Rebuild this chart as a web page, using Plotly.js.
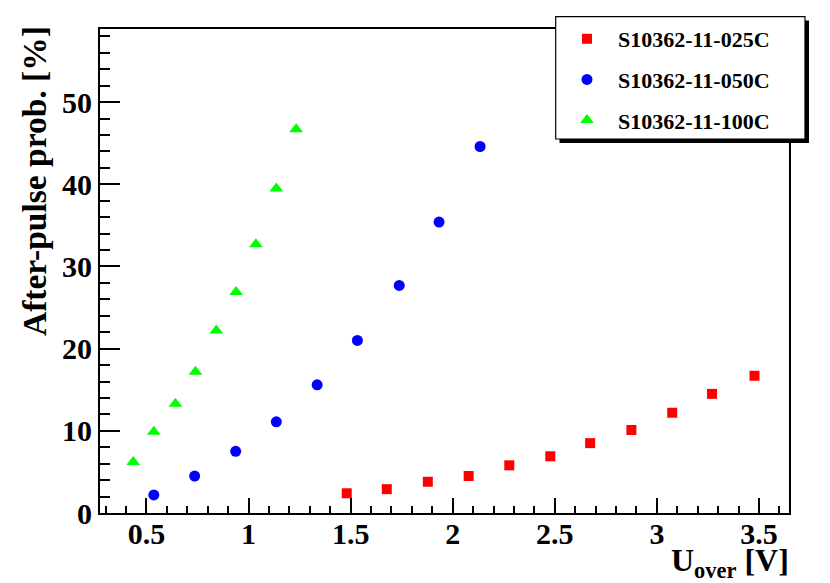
<!DOCTYPE html>
<html>
<head>
<meta charset="utf-8">
<script src="https://cdn.plot.ly/plotly-3.0.1.min.js"></script>
<style>html,body{margin:0;padding:0;background:#fff;}#chart{width:830px;height:583px;}</style>
</head>
<body>
<div id="chart"></div>
<script>
// ---- data ----
const names = ["S10362-11-025C", "S10362-11-050C", "S10362-11-100C"];
const x025 = [1.481, 1.677, 1.878, 2.078, 2.277, 2.478, 2.673, 2.875, 3.075, 3.270, 3.478];
const y025 = [2.4, 2.9, 3.8, 4.5, 5.8, 6.9, 8.5, 10.1, 12.2, 14.5, 16.7];
const x050 = [0.536, 0.736, 0.937, 1.136, 1.336, 1.533, 1.738, 1.933, 2.134];
const y050 = [2.2, 4.5, 7.5, 11.1, 15.6, 21.0, 27.7, 35.4, 44.6];
const x100 = [0.435, 0.536, 0.642, 0.740, 0.842, 0.939, 1.036, 1.136, 1.233];
const y100 = [6.2, 9.9, 13.3, 17.2, 22.2, 26.9, 32.7, 39.5, 46.7];
const xTitle = "U<sub>over</sub> [V]";
const yTitle = "After-pulse prob. [%]";

// ---- layout helpers (pixel -> paper) ----
const W = 830, H = 583;
const L = 100, R = 789, T = 29, B = 513;
const px = v => (v - L) / (R - L);
const py = v => (B - v) / (B - T);

const FONT = "Liberation Serif, Times New Roman, serif";

const traces = [
  {x: x025, y: y025, name: names[0], legendgroup: "a", mode: "markers", type: "scatter",
   marker: {symbol: "square", size: 10, color: "#ff0000"}},
  {x: x050, y: y050, name: names[1], legendgroup: "b", mode: "markers", type: "scatter",
   marker: {symbol: "circle", size: 11, color: "#0000ff"}},
  {x: x100, y: y100, name: names[2], legendgroup: "c", mode: "markers", type: "scatter",
   marker: {symbol: "triangle-up", size: 12, color: "#00ff00"}}
];

const axisCommon = {
  showgrid: false, zeroline: false,
  showline: true, linecolor: "#000", linewidth: 2, mirror: true,
  ticks: "inside", tickcolor: "#000", tickwidth: 2,
  tickfont: {family: FONT, size: 30, color: "#000", weight: "bold"}
};

const layout = {
  width: W, height: H,
  margin: {l: L, r: W - R, t: T, b: H - B, pad: 0},
  paper_bgcolor: "#fff", plot_bgcolor: "#fff",
  showlegend: true,
  xaxis: Object.assign({}, axisCommon, {
    range: [0.2724, 3.647], tickmode: "linear", tick0: 0.5, dtick: 0.5, ticklen: 15,
    ticklabelstandoff: -7,
    minor: {dtick: 0.1, tick0: 0, ticks: "inside", ticklen: 7, tickcolor: "#000", tickwidth: 2}
  }),
  yaxis: Object.assign({}, axisCommon, {
    range: [0, 58.9], tickmode: "linear", tick0: 0, dtick: 10, ticklen: 20,
    minor: {dtick: 2, tick0: 0, ticks: "inside", ticklen: 10, tickcolor: "#000", tickwidth: 2}
  }),
  legend: {
    x: px(556), y: py(18), xanchor: "left", yanchor: "top",
    bgcolor: "rgba(0,0,0,0)", borderwidth: 0, itemwidth: 52,
    tracegroupgap: 9,
    font: {family: FONT, size: 22, color: "#000", weight: "bold"}
  },
  shapes: [
    {type: "rect", xref: "paper", yref: "paper", layer: "above",
     x0: px(559.5), x1: px(809), y0: py(20.5), y1: py(143),
     fillcolor: "#000", line: {width: 0}},
    {type: "rect", xref: "paper", yref: "paper", layer: "above",
     x0: px(555.7), x1: px(805), y0: py(16.7), y1: py(139),
     fillcolor: "#fff", line: {color: "#000", width: 1.2}}
  ],
  annotations: [
    {text: yTitle, xref: "paper", yref: "paper", x: px(34), y: py(24),
     xanchor: "center", yanchor: "top", textangle: -90, showarrow: false,
     font: {family: FONT, size: 33.5, color: "#000", weight: "bold"}},
    {text: xTitle, xref: "paper", yref: "paper", x: px(791), y: py(562),
     xanchor: "right", yanchor: "middle", showarrow: false,
     font: {family: FONT, size: 32, color: "#000", weight: "bold"}}
  ]
};

Plotly.newPlot("chart", traces, layout, {staticPlot: true, displayModeBar: false});
</script>
</body>
</html>
